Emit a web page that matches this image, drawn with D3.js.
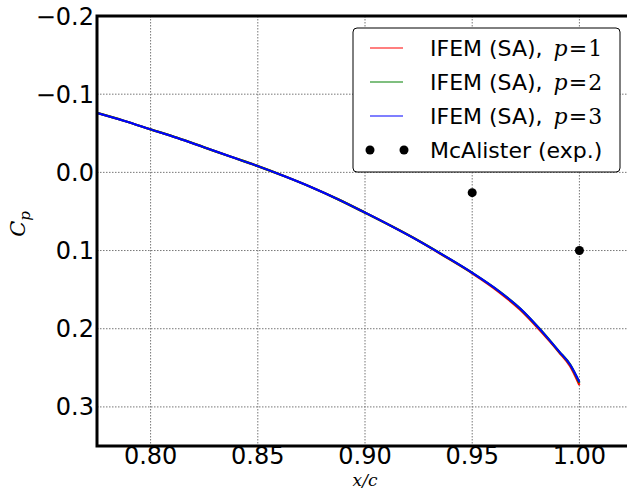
<!DOCTYPE html>
<html>
<head>
<meta charset="utf-8">
<script src="https://cdn.jsdelivr.net/npm/d3@7"></script>
<style>
  body { margin: 0; background: #fff; }
  svg text { font-family: "DejaVu Sans", sans-serif; }
  .math { font-family: "DejaVu Serif", serif; font-style: italic; }
</style>
</head>
<body>
<div id="chart"></div>
<script>
// x/c stations and Cp values
var xc = [0.775, 0.7875, 0.80, 0.8125, 0.825, 0.8375, 0.85, 0.8625, 0.875, 0.8875, 0.90, 0.9125, 0.925, 0.9375, 0.95, 0.9625, 0.9725, 0.98125, 0.9905, 0.9957, 1.00]
var cp_p1 = [-0.076, -0.066, -0.055, -0.044, -0.032, -0.020, -0.008, 0.005, 0.019, 0.0345, 0.0515, 0.069, 0.0875, 0.108, 0.129, 0.153, 0.176, 0.201, 0.230, 0.248, 0.272]
var cp_p2 = [-0.076, -0.066, -0.055, -0.044, -0.032, -0.020, -0.008, 0.005, 0.019, 0.0345, 0.0515, 0.069, 0.0875, 0.1075, 0.1285, 0.152, 0.1745, 0.1995, 0.229, 0.246, 0.269]
var cp_p3 = [-0.076, -0.066, -0.055, -0.044, -0.032, -0.020, -0.008, 0.005, 0.019, 0.0345, 0.0515, 0.069, 0.0875, 0.1075, 0.1285, 0.152, 0.1745, 0.1995, 0.229, 0.246, 0.268]

var exp_x = [0.95, 1.00]
var exp_cp = [0.026, 0.100]

var xTicks = [0.80, 0.85, 0.90, 0.95, 1.00]
var yTicks = [-0.2, -0.1, 0.0, 0.1, 0.2, 0.3]

var legendNames = ["IFEM (SA), ", "IFEM (SA), ", "IFEM (SA), ", "McAlister (exp.)"]
var legendP = ["1", "2", "3", null]
var colors = ["#ff0000", "#008000", "#0000ff", "#000000"]

var W = 627, H = 490
var margin = {top: 16, left: 97, bottom: 44, right: -6}

var svg = d3.select("#chart").append("svg")
    .attr("width", W)
    .attr("height", H)

var xScale = d3.scaleLinear()
    .domain([0.775, 1.025])
    .range([margin.left, W - margin.right])

var yScale = d3.scaleLinear()
    .domain([-0.2, 0.35])
    .range([margin.top, H - margin.bottom])

// grid
svg.selectAll(".gx")
    .data(xTicks)
    .enter().append("line")
    .attr("x1", function(d){ return xScale(d) })
    .attr("x2", function(d){ return xScale(d) })
    .attr("y1", yScale(-0.2))
    .attr("y2", yScale(0.35))
    .attr("stroke", "#777")
    .attr("stroke-width", 1)
    .attr("stroke-dasharray", "1.5,1.5")

svg.selectAll(".gy")
    .data(yTicks)
    .enter().append("line")
    .attr("x1", xScale(0.775))
    .attr("x2", W)
    .attr("y1", function(d){ return yScale(d) })
    .attr("y2", function(d){ return yScale(d) })
    .attr("stroke", "#777")
    .attr("stroke-width", 1)
    .attr("stroke-dasharray", "1.5,1.5")

// series
var series = [cp_p1, cp_p2, cp_p3]
var line = d3.line()
    .curve(d3.curveMonotoneX)
    .x(function(d){ return xScale(d[0]) })
    .y(function(d){ return yScale(d[1]) })

series.forEach(function(s, i){
    svg.append("path")
        .attr("d", line(xc.map(function(x, j){ return [x, s[j]] })))
        .attr("fill", "none")
        .attr("stroke", colors[i])
        .attr("stroke-width", i == 2 ? 2 : 2.3)
})

svg.selectAll(".exp")
    .data(exp_x)
    .enter().append("circle")
    .attr("cx", function(d){ return xScale(d) })
    .attr("cy", function(d, i){ return yScale(exp_cp[i]) })
    .attr("r", 4.5)
    .attr("fill", "#000")

// spines
var x0 = xScale(0.775), y0 = yScale(0.35), yTop = yScale(-0.2)
svg.append("path")
    .attr("d", "M" + W + "," + yTop + "H" + x0 + "V" + y0 + "H" + W)
    .attr("fill", "none")
    .attr("stroke", "#000")
    .attr("stroke-width", 3)

// tick labels
svg.selectAll(".xt")
    .data(xTicks)
    .enter().append("text")
    .attr("x", function(d){ return xScale(d) })
    .attr("y", 464)
    .attr("text-anchor", "middle")
    .attr("font-size", "24px")
    .text(function(d){ return d.toFixed(2) })

svg.selectAll(".yt")
    .data(yTicks)
    .enter().append("text")
    .attr("x", x0 - 3)
    .attr("y", function(d){ return yScale(d) + 8.5 })
    .attr("text-anchor", "end")
    .attr("font-size", "24px")
    .text(function(d){ return d3.format(".1f")(d).replace("-", "\u2212") })

// axis labels
svg.append("text")
    .attr("class", "math")
    .attr("x", 365)
    .attr("y", 486)
    .attr("text-anchor", "middle")
    .attr("font-size", "17px")
    .text("x/c")

var yl = svg.append("text")
    .attr("class", "math")
    .attr("transform", "translate(25,224) rotate(-90)")
    .attr("text-anchor", "middle")
    .attr("font-size", "21px")
yl.append("tspan").text("C")
yl.append("tspan").attr("font-size", "15px").attr("dy", 5).text("p")

// legend
var lg = svg.append("g")
lg.append("rect")
    .attr("x", 353).attr("y", 28)
    .attr("width", 267).attr("height", 144)
    .attr("rx", 4)
    .attr("fill", "#fff")
    .attr("stroke", "#000")
    .attr("stroke-width", 1)

legendNames.forEach(function(name, i){
    var cy = 48 + i * 34
    if (i < 3){
        lg.append("line")
            .attr("x1", 370).attr("x2", 403)
            .attr("y1", cy).attr("y2", cy)
            .attr("stroke", colors[i])
            .attr("stroke-width", 1.2)
    } else {
        lg.selectAll(".ld")
            .data([370, 404])
            .enter().append("circle")
            .attr("cx", function(d){ return d })
            .attr("cy", cy)
            .attr("r", 4.5)
            .attr("fill", "#000")
    }
    var t = lg.append("text")
        .attr("x", 430)
        .attr("y", cy + 8)
        .attr("font-size", "22px")
    t.append("tspan").text(name)
    if (legendP[i]){
        t.append("tspan").attr("class", "math").attr("dx", 4).text("p")
        t.append("tspan").attr("font-family", "DejaVu Serif").attr("dx", 1).text("=")
        t.append("tspan").attr("font-family", "DejaVu Serif").attr("dx", 1).text(legendP[i])
    }
})
</script>
</body>
</html>
